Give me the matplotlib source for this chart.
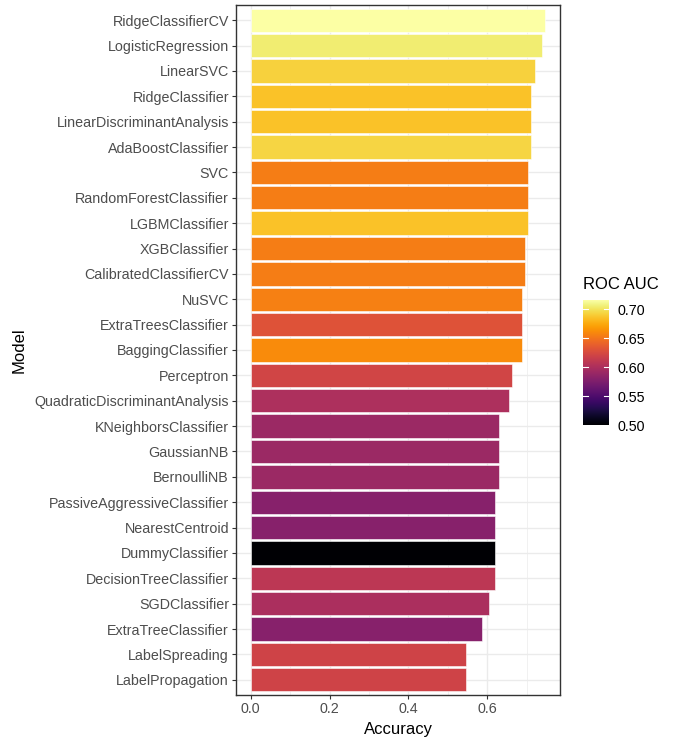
import matplotlib
matplotlib.use("Agg")
import matplotlib.pyplot as plt
import numpy as np
from matplotlib.colors import Normalize

plt.rcParams['font.family'] = ['Liberation Sans', 'DejaVu Sans']

models = ["RidgeClassifierCV", "LogisticRegression", "LinearSVC", "RidgeClassifier",
          "LinearDiscriminantAnalysis", "AdaBoostClassifier", "SVC", "RandomForestClassifier",
          "LGBMClassifier", "XGBClassifier", "CalibratedClassifierCV", "NuSVC",
          "ExtraTreesClassifier", "BaggingClassifier", "Perceptron",
          "QuadraticDiscriminantAnalysis", "KNeighborsClassifier", "GaussianNB",
          "BernoulliNB", "PassiveAggressiveClassifier", "NearestCentroid",
          "DummyClassifier", "DecisionTreeClassifier", "SGDClassifier",
          "ExtraTreeClassifier", "LabelSpreading", "LabelPropagation"]
accuracy = [0.747, 0.738, 0.721, 0.712, 0.712, 0.712, 0.704, 0.704, 0.704, 0.695,
            0.695, 0.687, 0.687, 0.687, 0.662, 0.654, 0.629, 0.629, 0.629, 0.620,
            0.620, 0.620, 0.620, 0.604, 0.587, 0.545, 0.545]
roc_auc = [0.716, 0.705, 0.692, 0.685, 0.685, 0.694, 0.654, 0.654, 0.685, 0.654,
           0.654, 0.656, 0.630, 0.661, 0.621, 0.600, 0.591, 0.591, 0.591, 0.580,
           0.580, 0.500, 0.608, 0.599, 0.580, 0.619, 0.619]

W, H = 673, 746
fig = plt.figure(figsize=(W / 100, H / 100), dpi=100)
ax = fig.add_axes([236 / W, 1 - 695 / H, (560 - 236) / W, (695 - 5) / H])

norm = Normalize(vmin=min(roc_auc), vmax=max(roc_auc))
cmap = matplotlib.colormaps["inferno"]
n = len(models)
ypos = np.arange(n)[::-1]

ax.set_axisbelow(True)
ax.barh(ypos, accuracy, height=0.92, color=cmap(norm(np.array(roc_auc))),
        edgecolor="white", linewidth=0.4, zorder=3)

amax = max(accuracy)
ax.set_xlim(-0.05 * amax, amax * 1.05)
ax.set_ylim(-0.6, n - 1 + 0.6)
ax.set_xticks([0.0, 0.2, 0.4, 0.6])
ax.set_xticklabels(["0.0", "0.2", "0.4", "0.6"])
ax.set_xticks([0.1, 0.3, 0.5, 0.7], minor=True)
ax.set_yticks(ypos)
ax.set_yticklabels(models)
ax.grid(which="major", color="#ebebeb", linewidth=1.0, zorder=0)
ax.grid(which="minor", axis="x", color="#ebebeb", linewidth=0.5, zorder=0)
ax.tick_params(which="major", length=3, color="#333333", labelsize=10.3,
               labelcolor="#4d4d4d", pad=2)
ax.tick_params(which="minor", length=0)
for s in ax.spines.values():
    s.set_color("#333333")
    s.set_linewidth(1.0)
ax.set_xlabel("Accuracy", fontsize=12, color="black")
ax.set_ylabel("Model", fontsize=12, color="black")
ax.xaxis.set_label_coords(0.5, -0.039)
ax.yaxis.set_label_coords(-0.645, 0.5)

# colorbar legend
cax = fig.add_axes([583 / W, 1 - 425 / H, (609 - 583) / W, (425 - 300) / H])
grad = np.linspace(norm.vmin, norm.vmax, 256).reshape(-1, 1)
cax.imshow(grad, aspect="auto", cmap=cmap, norm=norm, origin="lower",
           extent=[0, 1, norm.vmin, norm.vmax])
cticks = [0.50, 0.55, 0.60, 0.65, 0.70]
for t in cticks[1:]:
    cax.plot([0, 0.2], [t, t], color="white", lw=0.8)
    cax.plot([0.8, 1], [t, t], color="white", lw=0.8)
cax.set_xlim(0, 1)
cax.set_ylim(norm.vmin, norm.vmax)
cax.set_xticks([])
cax.yaxis.tick_right()
cax.set_yticks(cticks)
cax.set_yticklabels(["%.2f" % t for t in cticks])
cax.tick_params(length=0, labelsize=10.3, labelcolor="black", pad=6)
for s in cax.spines.values():
    s.set_visible(False)
fig.text(583 / W, 1 - 285 / H, "ROC AUC", fontsize=12, va="center", ha="left")

fig.savefig("out.png", dpi=100, facecolor="white")
